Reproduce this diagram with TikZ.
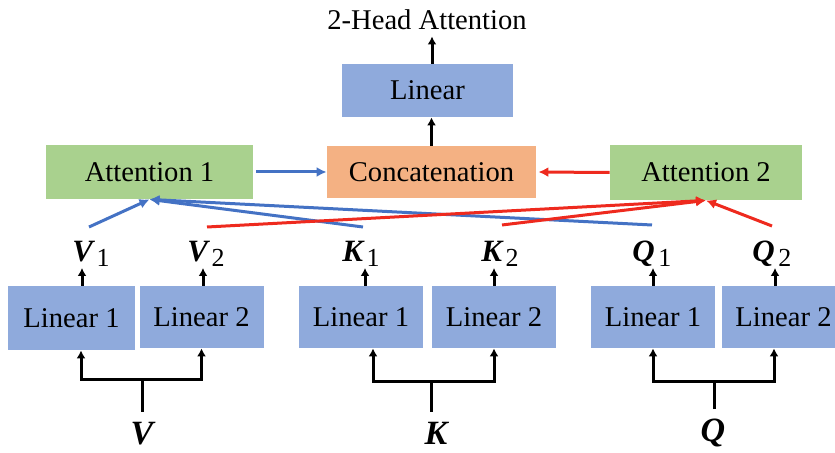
\documentclass[tikz,border=0pt]{standalone}
\usepackage{fontspec}
\setmainfont{Liberation Serif}
\usetikzlibrary{arrows.meta}

\definecolor{linblue}{HTML}{8FAADC}
\definecolor{attgreen}{HTML}{A9D18E}
\definecolor{catorange}{HTML}{F4B183}
\definecolor{headblue}{HTML}{4472C4}
\definecolor{headred}{HTML}{EE2A1E}

% bold italic letter with an upright subscript
\newcommand{\headvec}[2]{{\fontsize{15.5}{17}\selectfont\bfseries\itshape #1}\kern1.8pt\raisebox{-2.5pt}{\fontsize{13}{15}\selectfont #2}}

\begin{document}
\begin{tikzpicture}[x=0.5pt,y=-0.5pt,
  box/.style={inner sep=0pt,font=\fontsize{14.3}{17}\selectfont},
  linbox/.style={box,fill=linblue,minimum width=62pt,minimum height=31pt},
  attbox/.style={box,fill=attgreen,minimum width=96pt,minimum height=27.5pt},
  catbox/.style={box,fill=catorange,minimum width=104.5pt,minimum height=26pt},
  vecname/.style={inner sep=0pt,anchor=base west},
  inname/.style={inner sep=5pt,font=\fontsize{17}{19}\selectfont\bfseries\itshape},
  wire/.style={line width=1.5pt},
  blk/.style={wire,-{Latex[length=4pt,width=4.5pt]}},
  toone/.style={line width=1.5pt,headblue,-{Latex[length=5pt,width=5pt]}},
  totwo/.style={line width=1.5pt,headred,-{Latex[length=5pt,width=5pt]}}]
\useasboundingbox (0,0) rectangle (835,453);
\clip (0,0) rectangle (835,453);

% top part
\node[box,inner sep=3pt] (title) at (427,20) {2-Head Attention};
\node[box,fill=linblue,minimum width=85.5pt,minimum height=26.5pt] (lin) at (427.5,90.5) {Linear};
\node[catbox] (concat) at (431.5,172) {Concatenation};
\node[attbox,minimum width=103.5pt,minimum height=27pt] (att1) at (149.5,172) {Attention 1};
\node[attbox] (att2) at (706,172.5) {Attention 2};

\draw[blk] ([xshift=2.25pt]lin.north) -- ([xshift=2.25pt]lin.north |- title.south);
\draw[blk] (concat.north) -- (concat.north |- lin.south);
\draw[toone,shorten <=1.5pt] (att1.east) -- (concat.west);
\draw[totwo,shorten >=1pt] (att2.west) -- (concat.east);

% linear layers
\node[linbox,minimum width=63.5pt,minimum height=32pt] (vlinA) at (71.5,318) {Linear 1};
\node[linbox] (vlinB) at (201.5,317) {Linear 2};
\node[linbox] (klinA) at (361,317) {Linear 1};
\node[linbox] (klinB) at (494,317) {Linear 2};
\node[linbox] (qlinA) at (653,317) {Linear 1};
\node[linbox] (qlinB) at (783.5,317) {Linear 2};

% inputs
\node[inname] (vname) at (142,433.5) {V};
\node[inname] (kname) at (436,433.5) {K};
\node[inname] (qname) at (713,433.5) {Q};
\coordinate (vsplit) at (142,380);
\coordinate (ksplit) at (431,382);
\coordinate (qsplit) at (714,382);

\draw[wire] (vname.north) -- (vsplit);
\draw[blk] (vsplit) -| ([xshift=4.75pt]vlinA.south);
\draw[blk] (vsplit) -| (vlinB.south);
\draw[wire] (kname.north -| ksplit) -- (ksplit);
\draw[blk] (ksplit) -| ([xshift=6pt]klinA.south);
\draw[blk] (ksplit) -| (klinB.south);
\draw[wire] (qname.north -| qsplit) -- (qsplit);
\draw[blk] (qsplit) -| (qlinA.south);
\draw[blk] (qsplit) -| ([xshift=-4.75pt]qlinB.south);

% heads
\node[vecname] (v1) at (72,262) {\headvec{V}{1}};
\node[vecname] (v2) at (187,262) {\headvec{V}{2}};
\node[vecname] (k1) at (342,262) {\headvec{K}{1}};
\node[vecname] (k2) at (481,262) {\headvec{K}{2}};
\node[vecname] (q1) at (632,262) {\headvec{Q}{1}};
\node[vecname] (q2) at (752,262) {\headvec{Q}{2}};

\coordinate (v1tip) at (82,268);
\coordinate (v2tip) at (203,268);
\coordinate (k1tip) at (365,268);
\coordinate (k2tip) at (494,268);
\coordinate (q1tip) at (653,268);
\coordinate (q2tip) at (775,268);
\foreach \h/\b in {v1/vlinA,v2/vlinB,k1/klinA,k2/klinB,q1/qlinA,q2/qlinB}
  \draw[blk] (\b.north -| \h tip) -- (\h tip);

% to the attentions
\coordinate (v1out) at (89,227);
\coordinate (k1out) at (363,227);
\coordinate (q1out) at (652,225);
\coordinate (v2out) at (207,227);
\coordinate (k2out) at (502,225);
\coordinate (q2out) at (772,226);
\foreach \s in {v1out,k1out,q1out}
  \draw[toone] (\s) -- (att1.south);
\foreach \s in {v2out,k2out,q2out}
  \draw[totwo] (\s) -- (att2.south);

\end{tikzpicture}
\end{document}
